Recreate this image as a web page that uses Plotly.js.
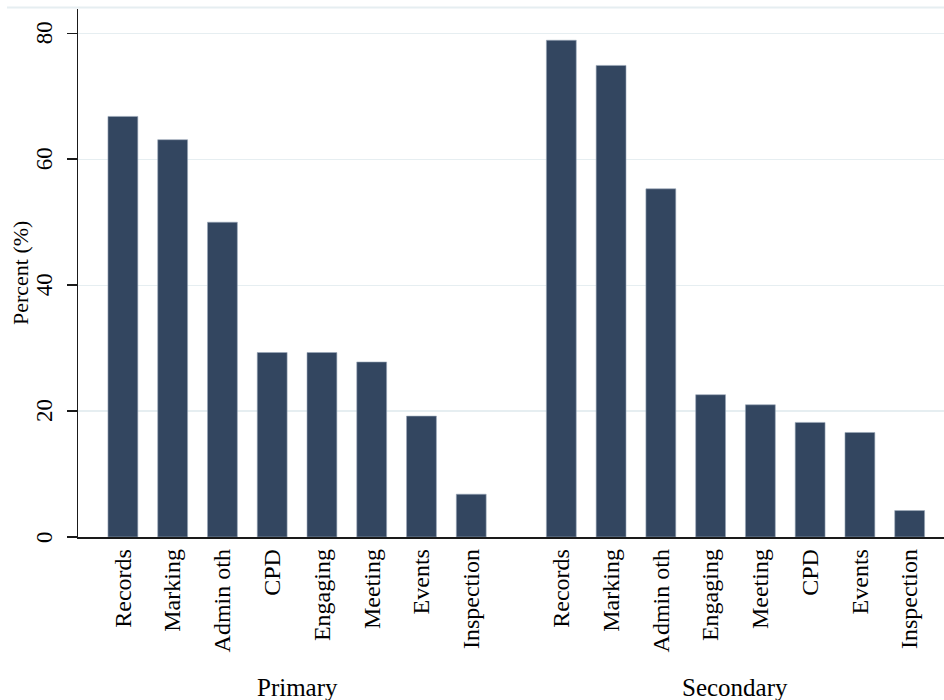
<!DOCTYPE html>
<html>
<head>
<meta charset="utf-8">
<script src="https://cdn.plot.ly/plotly-3.0.1.min.js"></script>
<style>html,body{margin:0;padding:0;background:#fff;}#chart{width:944px;height:700px;}</style>
</head>
<body>
<div id="chart"></div>
<script>
var groups = ["Primary", "Secondary"];
var primaryLabels = ["Records", "Marking", "Admin oth", "CPD", "Engaging", "Meeting", "Events", "Inspection"];
var primaryValues = [66.8, 63.1, 50.0, 29.3, 29.3, 27.8, 19.2, 6.8];
var secondaryLabels = ["Records", "Marking", "Admin oth", "Engaging", "Meeting", "CPD", "Events", "Inspection"];
var secondaryValues = [78.9, 74.9, 55.3, 22.6, 21.0, 18.2, 16.6, 4.2];
var yTicks = [0, 20, 40, 60, 80];
var yTitle = "Percent (%)";

var groupGap = 1.81;
var serif = '"Liberation Serif", "Times New Roman", serif';
var barColor = '#334660';
var plotW = 866, plotH = 528;

var xP = primaryLabels.map(function(_, i){ return i; });
var xS = secondaryLabels.map(function(_, i){ return primaryLabels.length - 1 + groupGap + i; });

var traceP = {type:'bar', x:xP, y:primaryValues, width:0.6,
  marker:{color:barColor, line:{color:'#9aa8b8', width:0.6}}, hoverinfo:'x+y', showlegend:false};
var traceS = {type:'bar', x:xS, y:secondaryValues, width:0.6,
  marker:{color:barColor, line:{color:'#9aa8b8', width:0.6}}, hoverinfo:'x+y', showlegend:false};

function mean(a){ return a.reduce(function(s,v){return s+v;},0)/a.length; }

var annotations = [
  {x:mean(xP), y:0, xref:'x', yref:'paper', yshift:-150, text:groups[0], showarrow:false,
   font:{family:serif, size:25, color:'#000'}, yanchor:'middle'},
  {x:mean(xS), y:0, xref:'x', yref:'paper', yshift:-150, text:groups[1], showarrow:false,
   font:{family:serif, size:25, color:'#000'}, yanchor:'middle'},
  {x:-(78-20)/plotW, y:0.5, xref:'paper', yref:'paper', text:yTitle, textangle:-90, showarrow:false,
   font:{family:serif, size:22, color:'#000'}, xanchor:'center', yanchor:'middle'}
];
yTicks.forEach(function(v){
  annotations.push({x:-(78-44)/plotW, y:v, xref:'paper', yref:'y', text:String(v), textangle:-90,
    showarrow:false, font:{family:serif, size:23, color:'#000'}, xanchor:'center', yanchor:'middle'});
});

var layout = {
  width:944, height:700,
  margin:{l:78, r:0, t:9, b:163},
  paper_bgcolor:'#ffffff', plot_bgcolor:'#ffffff',
  font:{family:serif, color:'#000'},
  xaxis:{
    range:[-0.902, 16.50],
    tickmode:'array', tickvals:xP.concat(xS), ticktext:primaryLabels.concat(secondaryLabels),
    tickangle:-90, tickfont:{family:serif, size:24, color:'#000'},
    ticks:'', showgrid:false, zeroline:false,
    showline:true, linecolor:'#1a1a1a', linewidth:1.5,
    ticklabelstandoff:1, fixedrange:true
  },
  yaxis:{
    range:[0, 83.86],
    tickmode:'array', tickvals:yTicks, showticklabels:false,
    ticks:'outside', ticklen:10, tickwidth:1.5, tickcolor:'#1a1a1a',
    showgrid:true, gridcolor:'#e6eef1', gridwidth:1.2,
    zeroline:false, showline:true, linecolor:'#1a1a1a', linewidth:1.5,
    fixedrange:true
  },
  annotations:annotations,
  shapes:[
    {type:'line', xref:'paper', yref:'paper', x0:-71/plotW, x1:1, y0:1+1.5/plotH, y1:1+1.5/plotH,
     line:{color:'#e6eef1', width:2}}
  ]
};

Plotly.newPlot('chart', [traceP, traceS], layout, {displayModeBar:false, staticPlot:true});
</script>
</body>
</html>
